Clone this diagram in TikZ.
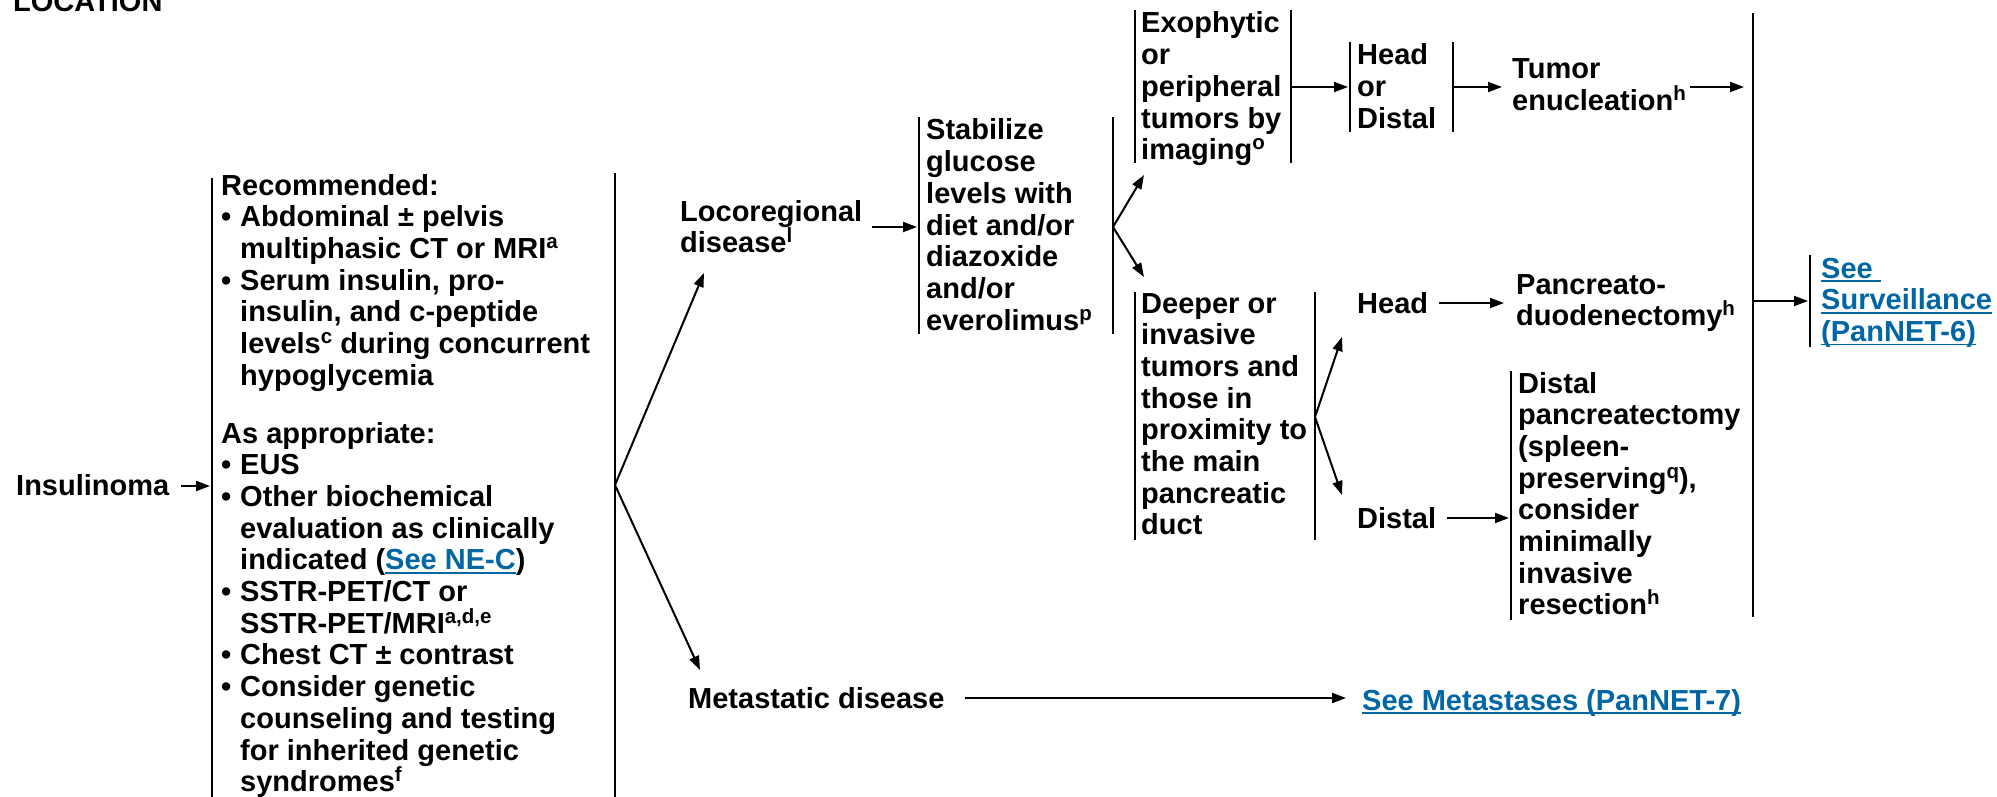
\documentclass[tikz,border=0pt]{standalone}
\usepackage{fontspec}
\setmainfont{Liberation Sans}
\usetikzlibrary{arrows.meta}
\definecolor{linkblue}{RGB}{0,102,164}
\newcommand\myfont{\fontsize{29}{31.7}\selectfont\bfseries}
\newcommand\stk[1]{\vtop{\baselineskip=31.7pt\lineskiplimit=-100pt\lineskip=0pt\halign{##\hfil\cr#1\crcr}}}
\newcommand\sps[1]{\raisebox{10pt}{\fontsize{20.5}{20.5}\selectfont #1}}
\newcommand\bu{\hbox to 19pt{•\hfil}}
\newcommand\ind{\hskip19pt}
\newcommand\lnk[1]{{\color{linkblue}\setbox0\hbox{#1}\rlap{\rule[-4pt]{\wd0}{1.6pt}}\box0}}
\begin{document}
\begin{tikzpicture}[x=1pt,y=-1pt,
  txt/.style={anchor=base west,inner sep=0pt,font=\myfont},
  bar/.style={line width=2pt},
  arr/.style={line width=2pt,-{Triangle[length=14pt,width=10pt]}}]
\useasboundingbox (0,0) rectangle (1997,797);

% ---- texts ----
\node[txt] (loc) at (13,12) {LOCATION};
\node[txt] (ins) at (16,495) {Insulinoma};
\node[txt] (rec) at (221,195) {\stk{Recommended:\cr
\bu Abdominal ± pelvis\cr
\ind multiphasic CT or MRI\sps{a}\cr
\bu Serum insulin, pro-\cr
\ind insulin, and c-peptide\cr
\ind levels\sps{c} during concurrent\cr
\ind hypoglycemia}};
\node[txt] (app) at (221,443) {\stk{As appropriate:\cr
\bu EUS\cr
\bu Other biochemical\cr
\ind evaluation as clinically\cr
\ind indicated (\lnk{See NE-C})\cr
\bu SSTR-PET/CT or\cr
\ind SSTR-PET/MRI\sps{a,d,e}\cr
\bu Chest CT ± contrast\cr
\bu Consider genetic\cr
\ind counseling and testing\cr
\ind for inherited genetic\cr
\ind syndromes\sps{f}}};
\node[txt] (lr) at (680,221) {\stk{Locoregional\cr disease\sps{l}}};
\node[txt] (meta) at (688,708) {Metastatic disease};
\node[txt] (stab) at (926,140) {\stk{Stabilize\cr glucose\cr levels with\cr diet and/or\cr diazoxide\cr and/or\cr everolimus\sps{p}}};
\node[txt] (exo) at (1141,33) {\stk{Exophytic\cr or\cr peripheral\cr tumors by\cr imaging\sps{o}}};
\node[txt] (deep) at (1141,313) {\stk{Deeper or\cr invasive\cr tumors and\cr those in\cr proximity to\cr the main\cr pancreatic\cr duct}};
\node[txt] (hod) at (1357,65) {\stk{Head\cr or\cr Distal}};
\node[txt] (tum) at (1512,79) {\stk{Tumor\cr enucleation\sps{h}}};
\node[txt] (head) at (1357,313) {Head};
\node[txt] (pan) at (1516,294) {\stk{Pancreato-\cr duodenectomy\sps{h}}};
\node[txt] (dist) at (1357,528) {Distal};
\node[txt] (dpan) at (1518,393) {\stk{Distal\cr pancreatectomy\cr (spleen-\cr preserving\sps{q}),\cr consider\cr minimally\cr invasive\cr resection\sps{h}}};
\node[txt] (surv) at (1821,278) {\stk{\lnk{See\ }\cr \lnk{Surveillance}\cr \lnk{(PanNET-6)}}};
\node[txt] (smet) at (1362,710) {\lnk{See Metastases (PanNET-7)}};

% ---- bracket bars ----
\draw[bar] (212,178) -- (212,797);
\draw[bar] (615,173) -- (615,797);
\draw[bar] (919,117) -- (919,334);
\draw[bar] (1113,117) -- (1113,334);
\draw[bar] (1135,10) -- (1135,163);
\draw[bar] (1291,10) -- (1291,163);
\draw[bar] (1350,42) -- (1350,132);
\draw[bar] (1453,42) -- (1453,132);
\draw[bar] (1135,292) -- (1135,540);
\draw[bar] (1315,292) -- (1315,540);
\draw[bar] (1511,371) -- (1511,620);
\draw[bar] (1753,13) -- (1753,617);
\draw[bar] (1810,255) -- (1810,347);

% ---- connector points ----
\coordinate (evalL) at (210,486);
\coordinate (evalR) at (615,485);
\coordinate (lrT) at (704,273);
\coordinate (metaT) at (700,670);
\coordinate (stabL) at (917,227);
\coordinate (stabR) at (1113,227);
\coordinate (exoT) at (1144,175);
\coordinate (deepT) at (1144,277);
\coordinate (exoR) at (1291,87);
\coordinate (hodL) at (1348,87);
\coordinate (hodR) at (1453,87);
\coordinate (tumL) at (1502,87);
\coordinate (bigA) at (1744,87);
\coordinate (bigB) at (1753,301);
\coordinate (survL) at (1808,301);
\coordinate (deepR) at (1315,417);
\coordinate (headT) at (1342,337);
\coordinate (distT) at (1342,495);
\coordinate (panL) at (1504,303);
\coordinate (dpanL) at (1509,518);
\coordinate (smetL) at (1346,698);

% ---- arrows ----
\draw[arr] ([xshift=12pt]ins.base east |- evalL) -- (evalL);
\draw[arr] (evalR) -- (lrT);
\draw[arr] (evalR) -- (metaT);
\draw[arr] ([xshift=10pt]lr.east |- stabL) -- (stabL);
\draw[arr] (stabR) -- (exoT);
\draw[arr] (stabR) -- (deepT);
\draw[arr] (exoR) -- (hodL);
\draw[arr] (hodR) -- (tumL);
\draw[arr] ([xshift=4pt]tum.east |- bigA) -- (bigA);
\draw[arr] (bigB) -- (survL);
\draw[arr] (deepR) -- (headT);
\draw[arr] (deepR) -- (distT);
\draw[arr] ([xshift=11pt]head.base east |- panL) -- (panL);
\draw[arr] ([xshift=11pt]dist.base east |- dpanL) -- (dpanL);
\draw[arr] ([xshift=20pt]meta.base east |- smetL) -- (smetL);
\end{tikzpicture}
\end{document}
